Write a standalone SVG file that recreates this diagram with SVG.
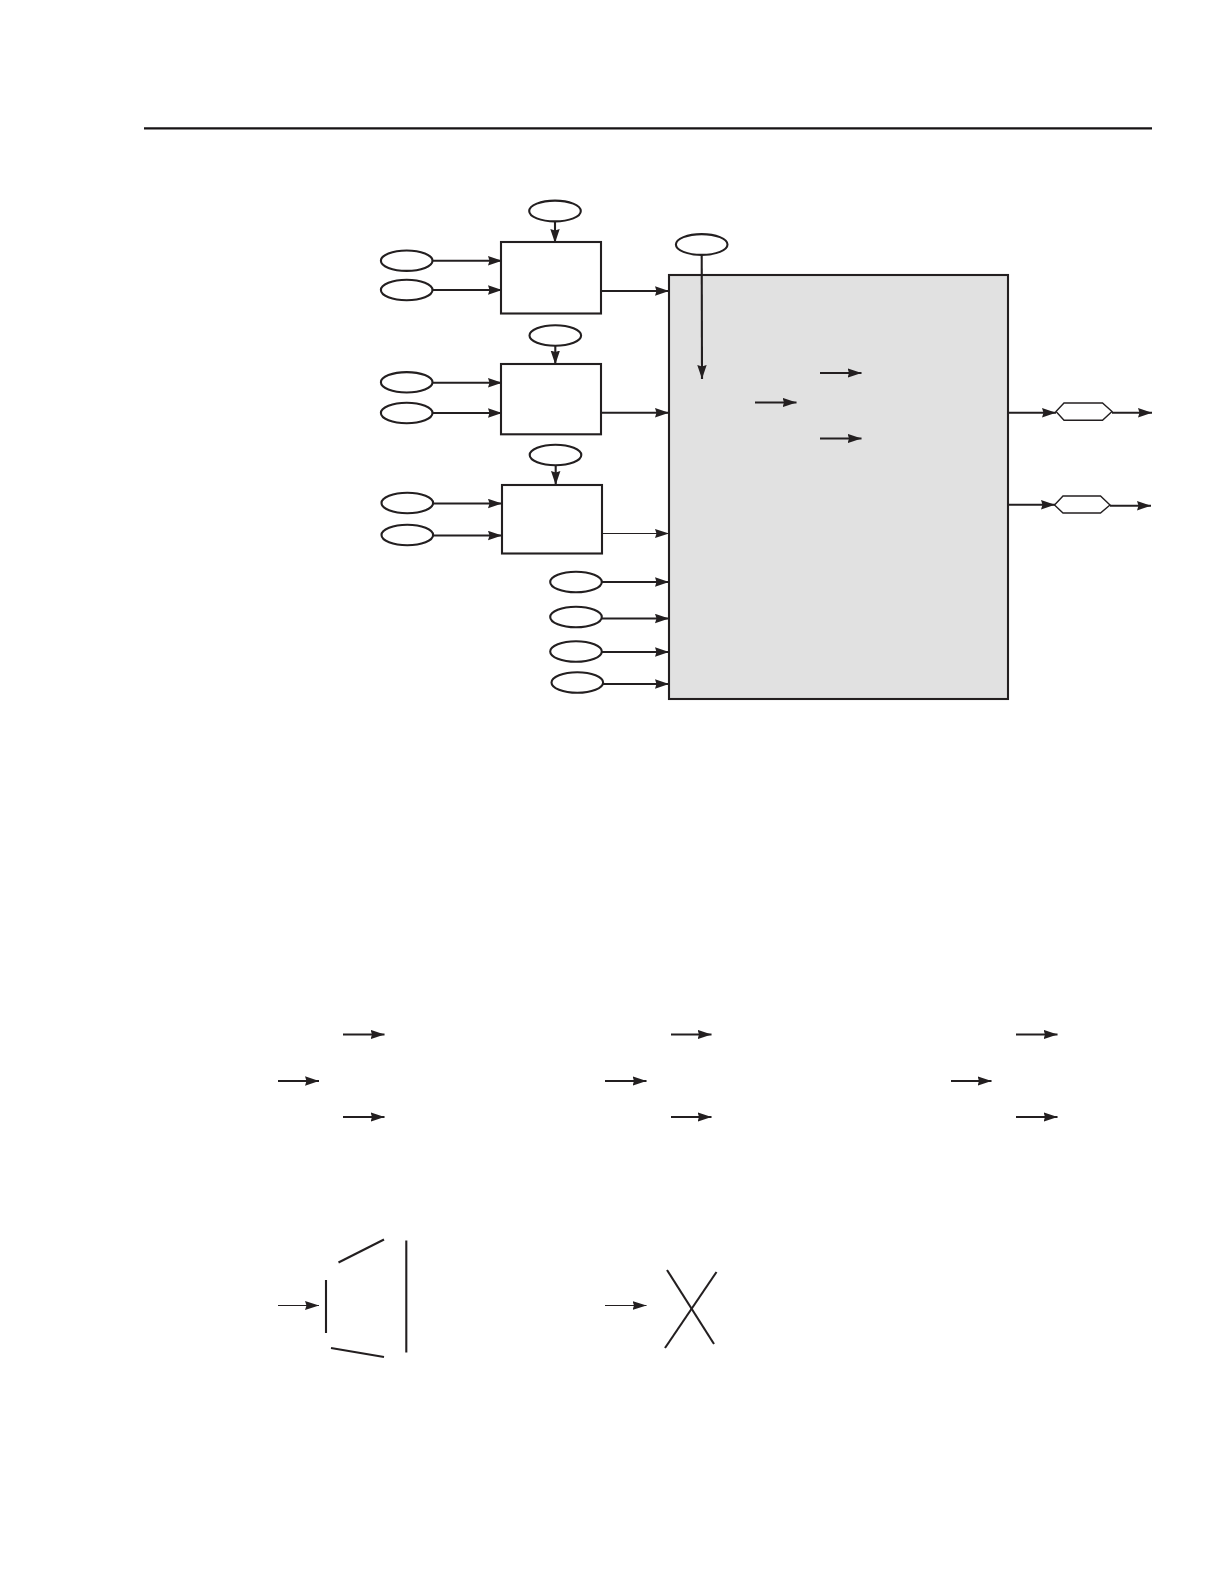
<svg xmlns="http://www.w3.org/2000/svg" width="1224" height="1584" viewBox="0 0 1224 1584">
<style>
.n{fill:#fff;stroke:#231f20;stroke-width:2.1}
.c line{stroke:#231f20;stroke-width:2.1;fill:none}
.c line.a{marker-end:url(#ah)}
.c line.t{stroke-width:1.2}
.c line.t.a{marker-end:url(#ah2)}
.s line{stroke:#231f20;stroke-width:2.1}
</style>
<defs>
<marker id="ah" markerUnits="userSpaceOnUse" markerWidth="15" markerHeight="10" refX="14" refY="5" orient="auto"><path d="M0 0.300L14 5L0 9.700L1.500 5Z" fill="#231f20"/></marker>
<marker id="ah2" markerUnits="userSpaceOnUse" markerWidth="15" markerHeight="10" refX="14" refY="5" orient="auto"><path d="M0 0.500L14 5L0 9.500L1.500 5Z" fill="#231f20"/></marker>
</defs>
<rect width="1224" height="1584" fill="#fff"/>
<line x1="144" y1="128.300" x2="1152" y2="128.300" stroke="#161314" stroke-width="2.200"/>
<g id="main"><rect x="669" y="275" width="339" height="424" fill="#e1e1e1" stroke="#231f20" stroke-width="2.100"/></g>
<g id="box1"><rect class="n" x="501" y="242" width="100" height="71.500"/></g>
<g id="box2"><rect class="n" x="501" y="364" width="100" height="70.300"/></g>
<g id="box3"><rect class="n" x="502" y="485" width="100" height="68.500"/></g>
<g id="e1"><ellipse class="n" cx="555" cy="211" rx="25.800" ry="10.400"/></g>
<g id="e2"><ellipse class="n" cx="555.300" cy="335.500" rx="25.800" ry="10.200"/></g>
<g id="e3"><ellipse class="n" cx="555.500" cy="455" rx="25.800" ry="10.200"/></g>
<g id="e4"><ellipse class="n" cx="701.700" cy="244.500" rx="25.800" ry="10.400"/></g>
<g id="e5"><ellipse class="n" cx="406.700" cy="260.700" rx="25.800" ry="10.200"/></g>
<g id="e6"><ellipse class="n" cx="406.700" cy="290" rx="25.800" ry="10.200"/></g>
<g id="e7"><ellipse class="n" cx="406.700" cy="382.300" rx="25.800" ry="10.200"/></g>
<g id="e8"><ellipse class="n" cx="406.700" cy="413" rx="25.800" ry="10.200"/></g>
<g id="e9"><ellipse class="n" cx="407.300" cy="503" rx="25.800" ry="10.200"/></g>
<g id="e10"><ellipse class="n" cx="407.300" cy="535" rx="25.800" ry="10.200"/></g>
<g id="e11"><ellipse class="n" cx="576" cy="582" rx="25.800" ry="10.300"/></g>
<g id="e12"><ellipse class="n" cx="576" cy="617" rx="25.800" ry="10.300"/></g>
<g id="e13"><ellipse class="n" cx="576" cy="651.500" rx="25.800" ry="10.300"/></g>
<g id="e14"><ellipse class="n" cx="577.300" cy="682.500" rx="25.800" ry="10.300"/></g>
<g id="h1"><path d="M1056 411.500L1064 403H1102.500L1112 411.500L1102.500 420.300H1064Z" fill="#fff" stroke="#231f20" stroke-width="1.400"/></g>
<g id="h2"><path d="M1054.500 505L1063 496H1100.500L1110 505L1100.500 513H1063Z" fill="#fff" stroke="#231f20" stroke-width="1.400"/></g>
<g id="connectors" class="c">
<line class="a" x1="555" y1="221" x2="555" y2="243"/>
<line class="a" x1="555.300" y1="346" x2="555.300" y2="364.500"/>
<line class="a" x1="555.700" y1="465" x2="555.700" y2="485"/>
<line class="a" x1="701.700" y1="255" x2="702" y2="379"/>
<line class="a" x1="432" y1="260.700" x2="502" y2="260.700"/>
<line class="a" x1="432" y1="290" x2="502" y2="290"/>
<line class="a" x1="432" y1="382.700" x2="502" y2="382.700"/>
<line class="a" x1="432" y1="413" x2="502" y2="413"/>
<line class="a" x1="433" y1="503.500" x2="502" y2="503.500"/>
<line class="a" x1="433" y1="535.500" x2="502" y2="535.500"/>
<line class="a" x1="601" y1="291" x2="669" y2="291"/>
<line class="a" x1="601" y1="412.700" x2="669" y2="412.700"/>
<line class="t a" x1="602" y1="533.500" x2="669" y2="533.500"/>
<line class="a" x1="601" y1="582" x2="669" y2="582"/>
<line class="a" x1="601" y1="618.500" x2="669" y2="618.500"/>
<line class="a" x1="601" y1="652" x2="669" y2="652"/>
<line class="a" x1="603" y1="684" x2="669" y2="684"/>
<line class="a" x1="1008" y1="412.700" x2="1056" y2="412.700"/>
<line class="a" x1="1112" y1="412.700" x2="1152" y2="412.700"/>
<line class="a" x1="1008" y1="504.700" x2="1055" y2="504.700"/>
<line class="a" x1="1110" y1="505.700" x2="1151" y2="505.700"/>
<line class="a" x1="820" y1="373" x2="861.500" y2="373"/>
<line class="a" x1="755" y1="402.500" x2="796.500" y2="402.500"/>
<line class="a" x1="820" y1="438.500" x2="861.500" y2="438.500"/>
<line class="a" x1="343" y1="1034.500" x2="384.500" y2="1034.500"/>
<line class="a" x1="278" y1="1081" x2="319" y2="1081"/>
<line class="a" x1="343" y1="1117" x2="384.500" y2="1117"/>
<line class="a" x1="671" y1="1034.500" x2="711.500" y2="1034.500"/>
<line class="a" x1="605" y1="1081" x2="646.500" y2="1081"/>
<line class="a" x1="671" y1="1117" x2="711.500" y2="1117"/>
<line class="a" x1="1016" y1="1034.500" x2="1057.500" y2="1034.500"/>
<line class="a" x1="951" y1="1081" x2="991.500" y2="1081"/>
<line class="a" x1="1016" y1="1117" x2="1057.500" y2="1117"/>
<line class="t a" x1="278" y1="1305.500" x2="319" y2="1305.500"/>
<line class="t a" x1="605" y1="1305.500" x2="646.500" y2="1305.500"/>
</g>
<g id="strokes" class="s">
<line x1="338.500" y1="1262.500" x2="384" y2="1239.500"/>
<line x1="326" y1="1280" x2="326" y2="1333"/>
<line x1="406.300" y1="1240.500" x2="406.300" y2="1352.500"/>
<line x1="331" y1="1348" x2="384" y2="1357"/>
<line x1="667" y1="1270" x2="714" y2="1344"/>
<line x1="716.500" y1="1272" x2="665" y2="1348"/>
</g>
</svg>
